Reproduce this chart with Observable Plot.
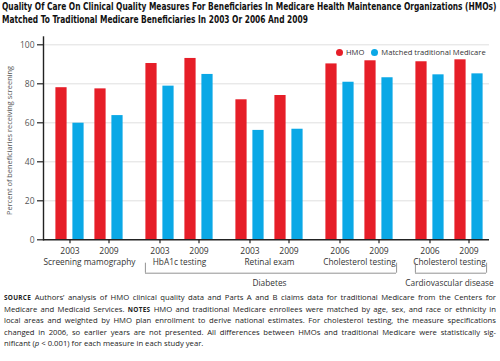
<!DOCTYPE html>
<html><head><meta charset="utf-8">
<script src="https://cdn.jsdelivr.net/npm/d3@7"></script>
<script src="https://cdn.jsdelivr.net/npm/@observablehq/plot@0.6"></script>
<style>
body{margin:0;width:500px;height:361px;background:#fff;position:relative;overflow:hidden;font-family:"Open Sans",sans-serif;color:#222}
#title{position:absolute;left:2px;top:1px;font-family:"Liberation Sans Narrow","DejaVu Sans Condensed",sans-serif;font-weight:bold;font-size:10px;line-height:12.5px;color:#111}
#title div{white-space:nowrap;transform-origin:0 0}
#chart{position:absolute;left:0;top:26px}
#legend{position:absolute;left:336px;top:46.5px;font-size:7.6px;line-height:11px;color:#333;white-space:nowrap}
#legend span.dot{display:inline-block;width:7px;height:7px;border-radius:50%;vertical-align:-1px;margin-right:3px}
#caption{position:absolute;left:4px;top:292.3px;width:492px;font-size:7.7px;line-height:11.4px;color:#222}
#caption div{text-align:justify;text-align-last:justify;white-space:nowrap}
#caption div.last{text-align-last:left}
#caption b{font-size:6.4px;letter-spacing:0.3px}
</style></head>
<body>
<div id="title"></div>
<div id="chart"></div>
<div id="legend"></div>
<div id="caption"></div>
<script>
const titleLines = ["Quality Of Care On Clinical Quality Measures For Beneficiaries In Medicare Health Maintenance Organizations (HMOs)", "Matched To Traditional Medicare Beneficiaries In 2003 Or 2006 And 2009"];
const measures = ["Screening mamography", "HbA1c testing", "Retinal exam", "Cholesterol testing", "Cholesterol testing"];
const conditions = ["", "Diabetes", "Diabetes", "Diabetes", "Cardiovascular disease"];
const years = [[2003, 2009], [2003, 2009], [2003, 2009], [2006, 2009], [2006, 2009]];
const hmo = [[78, 77.4], [90.4, 93], [71.8, 74], [90.2, 91.8], [91.3, 92.3]];
const traditional = [[59.8, 63.7], [78.8, 84.8], [56.1, 56.7], [80.8, 83.1], [84.6, 85.1]];
const seriesNames = ["HMO", "Matched traditional Medicare"];
const colors = ["#E61E28", "#0AA8E6"];
const yTicks = [0, 20, 40, 60, 80, 100];
const yLabel = "Percent of beneficiaries receiving screening";
const captionLines = [
  ["SOURCE", " Authors’ analysis of HMO clinical quality data and Parts A and B claims data for traditional Medicare from the Centers for"],
  ["", "Medicare and Medicaid Services. ", "NOTES", " HMO and traditional Medicare enrollees were matched by age, sex, and race or ethnicity in"],
  ["", "local areas and weighted by HMO plan enrollment to derive national estimates. For cholesterol testing, the measure specifications"],
  ["", "changed in 2006, so earlier years are not presented. All differences between HMOs and traditional Medicare were statistically sig-"],
  ["", "nificant (", "p", " < 0.001) for each measure in each study year."]
];

// title
const tEl = document.getElementById("title");
titleLines.forEach(t => { const d = document.createElement("div"); d.textContent = t; tEl.appendChild(d); });
tEl.querySelectorAll("div").forEach((d, i) => {
  if (i === 0) { const w = d.scrollWidth; const s = 494 / w; tEl.dataset.s = s; }
  d.style.transform = `scaleX(${tEl.dataset.s})`;
});

// caption
const cEl = document.getElementById("caption");
captionLines.forEach((parts, i) => {
  const d = document.createElement("div");
  if (i === captionLines.length - 1) d.className = "last";
  if (i === 0) { d.innerHTML = `<b>${parts[0]}</b>${parts[1]}`; }
  else if (i === 1) { d.innerHTML = `${parts[1]}<b>${parts[2]}</b>${parts[3]}`; }
  else if (i === 4) { d.innerHTML = `${parts[1]}<i>${parts[2]}</i>${parts[3]}`; }
  else d.textContent = parts[1];
  cEl.appendChild(d);
});

// legend
document.getElementById("legend").innerHTML = seriesNames.map((s, i) =>
  `<span style="margin-right:${i === 0 ? 7 : 0}px"><span class="dot" style="background:${colors[i]}"></span>${s}</span>`).join("");

// data rows
const rows = [];
measures.forEach((m, g) => [0, 1].forEach(p => {
  rows.push({g, p, year: years[g][p], series: seriesNames[0], value: hmo[g][p]});
  rows.push({g, p, year: years[g][p], series: seriesNames[1], value: traditional[g][p]});
}));
const groupRows = measures.map((m, g) => ({g, label: m}));
const brackets = [];
conditions.forEach((c, g) => {
  if (!c) return;
  const last = brackets[brackets.length - 1];
  if (last && last.label === c && last.to === g - 1) last.to = g;
  else brackets.push({label: c, from: g, to: g});
});
brackets.forEach(b => b.mid = Math.round((b.from + b.to) / 2));

const W = 500, H = 264, mL = 43, mR = 11, mT = 10.5, mB = 50.7;
const xRange = [43, 494];
const bw = (xRange[1] - xRange[0]) / measures.length;
const pairOff = [-19.5, 19.5];
const barSpan = [[-14.2, -2.8], [2.8, 14.2]];

const marks = [
  Plot.ruleY(yTicks.filter(t => t > 0), {stroke: "#d8d8d8", strokeWidth: 0.8}),
];
for (const p of [0, 1]) seriesNames.forEach((name, s) => {
  const a = pairOff[p] + barSpan[s][0], b = pairOff[p] + barSpan[s][1];
  marks.push(Plot.barY(rows.filter(d => d.p === p && d.series === name), {
    x: "g", y: "value", fill: "series", insetLeft: bw / 2 + a, insetRight: bw / 2 - b
  }));
});
marks.push(
  Plot.ruleY([0], {stroke: "#222", strokeWidth: 1.4}),
  Plot.frame({anchor: "left", stroke: "#222", strokeWidth: 1.4}),
  Plot.axisY({ticks: yTicks, tickSize: 6, tickPadding: 3, fontSize: 8.5, fill: "#555", stroke: "#222", strokeWidth: 1.2, label: null}),
  Plot.text([yLabel], {frameAnchor: "left", textAnchor: "middle", text: d => d, rotate: -90, dx: -34, dy: 2, fontSize: 7.4, fill: "#555"})
);
for (const p of [0, 1]) {
  const r = rows.filter(d => d.p === p && d.series === seriesNames[0]);
  marks.push(
    Plot.ruleX(r, {x: "g", dx: pairOff[p], y1: 0, y2: 0, insetBottom: -4, stroke: "#222", strokeWidth: 1.2}),
    Plot.text(r, {x: "g", y: 0, dx: pairOff[p], dy: 11.4, text: d => String(d.year), fontSize: 8.5, fill: "#333"})
  );
}
marks.push(
  Plot.text(groupRows, {x: "g", y: 0, dy: 23, text: "label", fontSize: 8.3, fill: "#333"}),
  Plot.ruleY(brackets, {x1: "from", x2: "to", y: 0, dy: 33.4, insetLeft: 11, insetRight: 8, stroke: "#777", strokeWidth: 0.8}),
  Plot.ruleX(brackets, {x: "from", dx: -bw / 2 + 11, y1: 0, y2: 0, insetTop: 23.4, insetBottom: -33.4, stroke: "#777", strokeWidth: 0.8}),
  Plot.ruleX(brackets, {x: "to", dx: bw / 2 - 8, y1: 0, y2: 0, insetTop: 23.4, insetBottom: -33.4, stroke: "#777", strokeWidth: 0.8}),
  Plot.text(brackets, {x: "mid", y: 0, dy: 43.4, text: "label", fontSize: 8.3, fill: "#333"})
);

const chart = Plot.plot({
  width: W, height: H, marginLeft: mL, marginRight: mR, marginTop: mT, marginBottom: mB,
  style: {fontFamily: "'Open Sans', sans-serif", background: "#fff", overflow: "visible"},
  x: {type: "band", domain: d3.range(measures.length), range: xRange, padding: 0, axis: null},
  y: {domain: [0, 104], axis: null},
  color: {domain: seriesNames, range: colors},
  marks
});
document.getElementById("chart").appendChild(chart);
</script>
</body></html>
